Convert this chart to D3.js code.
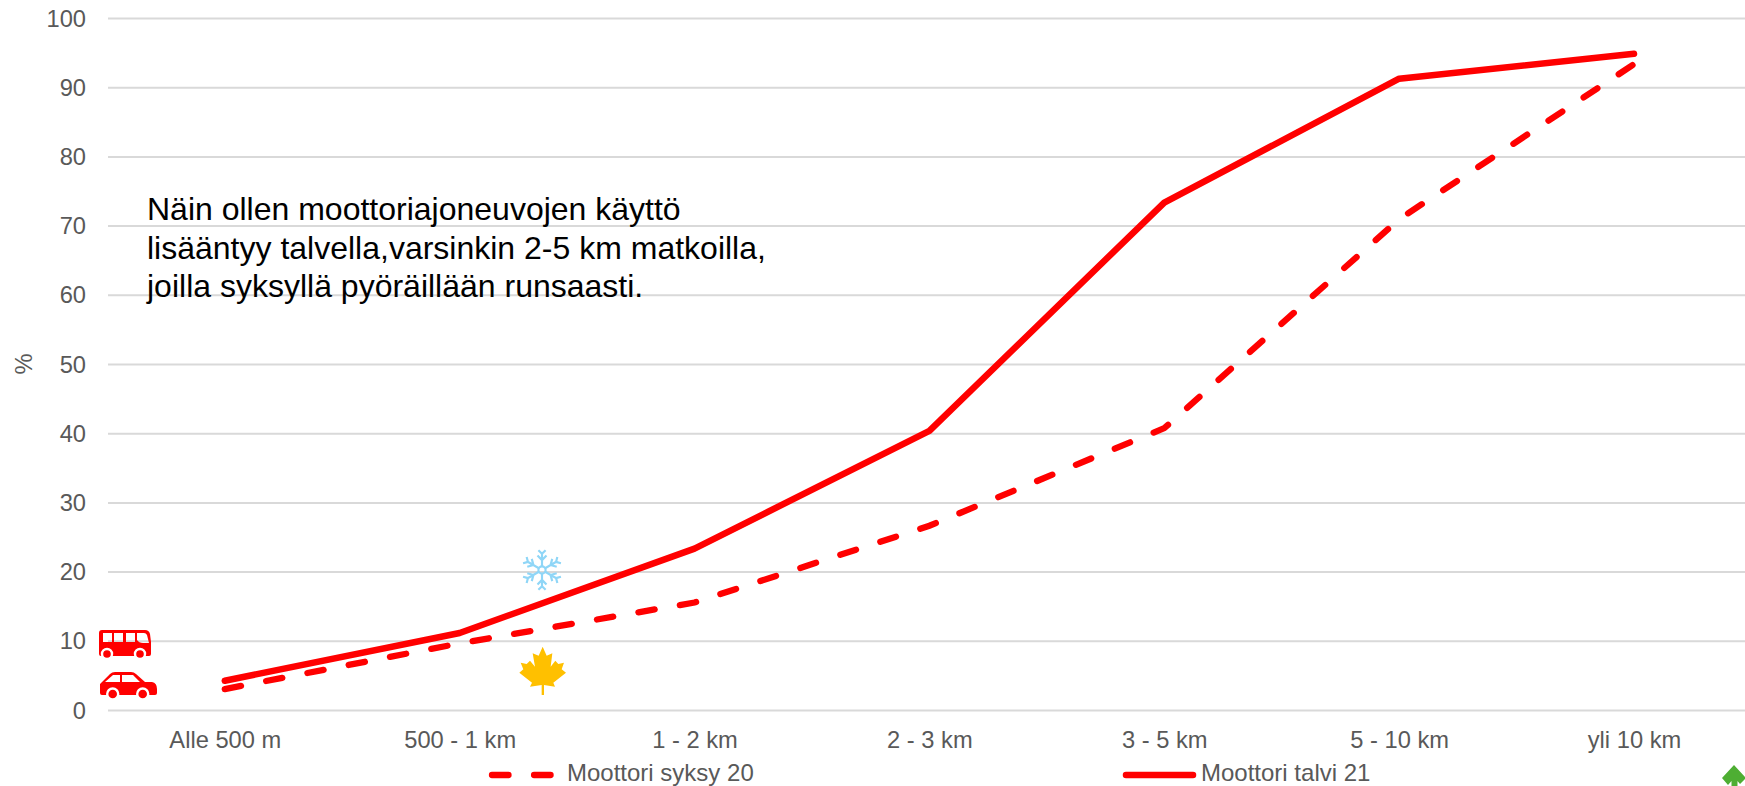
<!DOCTYPE html>
<html><head><meta charset="utf-8">
<script src="https://cdn.jsdelivr.net/npm/d3@7/dist/d3.min.js"></script>
<style>html,body{margin:0;padding:0;background:#fff;overflow:hidden}svg{display:block}text{font-family:"Liberation Sans",Arial,sans-serif}</style>
</head><body><svg id="c" width="1745" height="786"></svg>
<script>
const categories = ["Alle 500 m","500 - 1 km","1 - 2 km","2 - 3 km","3 - 5 km","5 - 10 km","yli 10 km"];
const autumn = [3.1,9.7,15.6,26.7,40.8,71,93.4];
const winter = [4.3,11.2,23.4,40.4,73.4,91.3,94.9];
const yTicks = [0,10,20,30,40,50,60,70,80,90,100];
const noteLines = ["Näin ollen moottoriajoneuvojen käyttö","lisääntyy talvella,varsinkin 2-5 km matkoilla,","joilla syksyllä pyöräillään runsaasti."];
const legendLabels = ["Moottori syksy 20","Moottori talvi 21"];
const RED="#ff0000", TXT="#595959", GRID="#d9d9d9", DASH="16.5 25.57";
const svg=d3.select("#c");
const x=d3.scalePoint().domain(categories).range([224.8,1634]);
const y=d3.scaleLinear().domain([0,100]).range([710.5,18.5]);
const FS=23.7;
const yAxis=d3.axisLeft(y).tickValues(yTicks).tickSize(0).tickPadding(0);
const gy=svg.append("g").attr("transform","translate(86,0)").call(yAxis);
gy.select(".domain").remove();
gy.selectAll("text").attr("font-size",FS).attr("fill",TXT).style("font-family",'"Liberation Sans"');
svg.insert("g","g").selectAll("line").data(yTicks).join("line")
 .attr("x1",108).attr("x2",1745).attr("y1",d=>y(d)).attr("y2",d=>y(d)).attr("stroke",GRID).attr("stroke-width",2);
const xAxis=d3.axisBottom(x).tickSize(0).tickPadding(0);
const gx=svg.append("g").attr("transform","translate(0,731)").call(xAxis);
gx.select(".domain").remove();
gx.selectAll("text").attr("font-size",FS).attr("fill",TXT).style("font-family",'"Liberation Sans"').attr("dy","0.71em");
svg.append("text").attr("transform","translate(32,364) rotate(-90)").attr("text-anchor","middle").attr("font-size",FS).attr("fill",TXT).text("%");
const line=d3.line().x((d,i)=>x(categories[i])).y(d=>y(d));
svg.append("path").datum(autumn).attr("d",line).attr("fill","none").attr("stroke",RED).attr("stroke-width",6.3).attr("stroke-linecap","round").attr("stroke-dasharray",DASH);
svg.append("path").datum(winter).attr("d",line).attr("fill","none").attr("stroke",RED).attr("stroke-width",6.5).attr("stroke-linecap","round").attr("stroke-linejoin","round");
// note
svg.append("g").selectAll("text").data(noteLines).join("text").attr("x",147).attr("y",(d,i)=>220+i*38.5).attr("font-size",32).attr("fill","#000").text(d=>d);
// legend
svg.append("line").attr("x1",492).attr("x2",552).attr("y1",775).attr("y2",775).attr("stroke",RED).attr("stroke-width",6.3).attr("stroke-linecap","round").attr("stroke-dasharray",DASH);
svg.append("text").attr("x",567).attr("y",781).attr("font-size",24).attr("fill",TXT).text(legendLabels[0]);
svg.append("line").attr("x1",1126).attr("x2",1193).attr("y1",775).attr("y2",775).attr("stroke",RED).attr("stroke-width",6.5).attr("stroke-linecap","round");
svg.append("text").attr("x",1201).attr("y",781).attr("font-size",24).attr("fill",TXT).text(legendLabels[1]);
// bus icon
const bus=svg.append("g").attr("transform","translate(99,630)");
bus.append("path").attr("fill",RED).attr("fill-rule","evenodd").attr("d","M3 0H46Q50 0 51 4L52 12V24Q52 26 50 26H2Q0 26 0 24V3Q0 0 3 0ZM4 3V12H13V3ZM15 3V12H24V3ZM27 3V12H36V3ZM38 3V10Q40 13 44 13H50L48 5Q47 3 45 3Z");
[8,41].forEach(c=>bus.append("circle").attr("cx",c).attr("cy",24).attr("r",5).attr("fill",RED).attr("stroke","#fff").attr("stroke-width",2.4));
// car icon
const car=svg.append("g").attr("transform","translate(100,672)");
car.append("path").attr("fill",RED).attr("fill-rule","evenodd").attr("d","M0 12L10 2Q12 0 15 0H31Q34 0 36 2L45 10H52Q57 11 57 17V21Q57 23 55 23H2Q0 23 0 21ZM5 10H20V3H13ZM22 3V10H40L33 3Z");
[12.7,42.7].forEach(c=>car.append("circle").attr("cx",c).attr("cy",22).attr("r",5.5).attr("fill",RED).attr("stroke","#fff").attr("stroke-width",2.4));
// snowflake
const sf=svg.append("g").attr("transform","translate(542,570) scale(0.9)").attr("stroke","#8fd6f7").attr("stroke-width",2.4).attr("fill","none");
d3.range(6).forEach(i=>{const a=sf.append("g").attr("transform",`rotate(${i*60})`);
 a.append("path").attr("d","M0 -4V-20M-5 -16L0 -11L5 -16M-4 -22L0 -18L4 -22");});
sf.append("circle").attr("r",4);
// leaf
svg.append("path").attr("transform","translate(510,640) scale(0.3333)").attr("fill","#ffc000")
 .attr("d","M98 20L110 47L127 40L122 80L136 62L145 72L162 68L155 88L168 98L130 128L135 140L102 135V165H95V135L60 140L66 128L28 98L40 88L32 68L50 72L60 62L75 80L68 40L86 47Z");
// green corner mark
svg.append("path").attr("fill","#4eae33").attr("d","M1734 765L1746 778L1740 784L1737.5 781V786H1731.5V781L1728 785L1722 778Z");
</script></body></html>
